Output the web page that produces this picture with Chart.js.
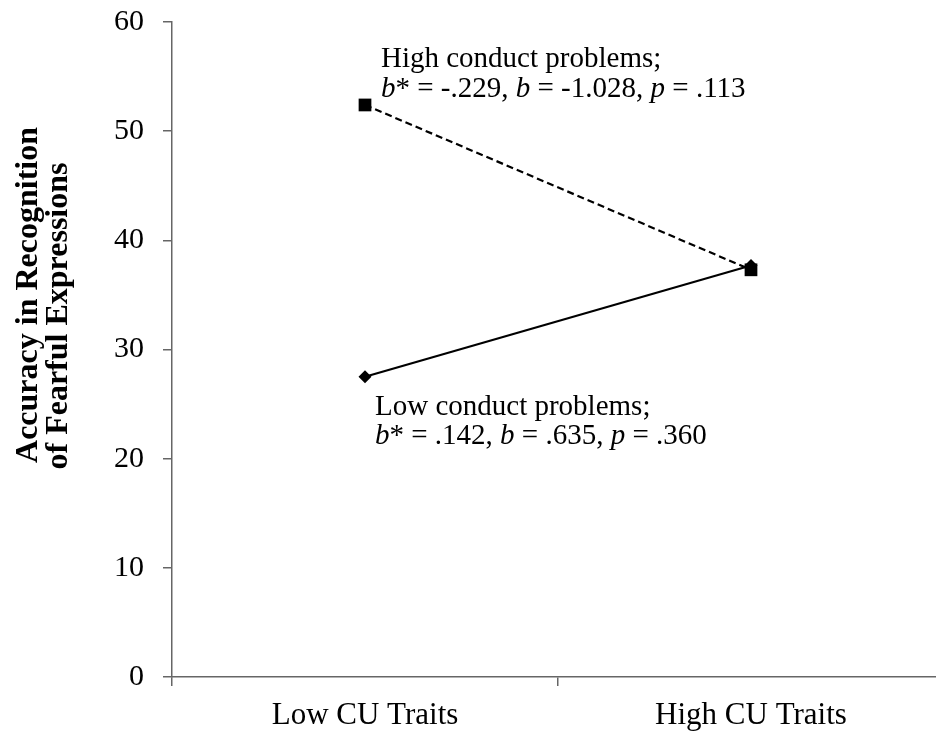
<!DOCTYPE html>
<html>
<head>
<meta charset="utf-8">
<script src="https://cdn.jsdelivr.net/npm/chart.js"></script>
<style>
  html, body { margin: 0; padding: 0; background: #fff; overflow: hidden; }
  #wrap { width: 936px; height: 731px; overflow: hidden; }
</style>
</head>
<body>
<div id="wrap"><canvas id="chart-1" width="944" height="731"></canvas></div>
<script>
// Categories and series values
const categories = ['Low CU Traits', 'High CU Traits'];
const highConduct = [52.4, 37.3];
const lowConduct = [27.5, 37.7];

const yTitle = ['Accuracy in Recognition', 'of Fearful Expressions'];

// Annotation lines, [text, italic] pieces
const highNote = [
  [['High conduct problems;', false]],
  [['b', true], ['* = -.229, ', false], ['b', true], [' = -1.028, ', false], ['p', true], [' = .113', false]]
];
const lowNote = [
  [['Low conduct problems;', false]],
  [['b', true], ['* = .142, ', false], ['b', true], [' = .635, ', false], ['p', true], [' = .360', false]]
];

const serif = "'Liberation Serif', 'Times New Roman', serif";

function drawRuns(ctx, runs, x, y, size) {
  runs.forEach(function(r) {
    ctx.font = (r[1] ? 'italic ' : '') + size + 'px ' + serif;
    ctx.fillText(r[0], x, y);
    x += ctx.measureText(r[0]).width;
  });
}

const textPlugin = {
  id: 'textPlugin',
  afterDraw: function(chart) {
    const ctx = chart.ctx;
    ctx.save();
    ctx.fillStyle = '#000';
    ctx.textBaseline = 'alphabetic';
    ctx.textAlign = 'left';
    highNote.forEach(function(line, i) { drawRuns(ctx, line, 381, 67 + i * 30, 29); });
    lowNote.forEach(function(line, i) { drawRuns(ctx, line, 375, 415 + i * 29, 29); });

    // y axis title, two lines rotated
    ctx.font = 'bold 32px ' + serif;
    ctx.textAlign = 'center';
    ctx.rotate(-Math.PI / 2);
    ctx.fillText(yTitle[0], -295, 37);
    ctx.fillText(yTitle[1], -316, 67);
    ctx.restore();
  }
};

// scales keep their own size; no extra label padding around the plot
function noPad(scale) {
  scale.paddingTop = 0;
  scale.paddingBottom = 0;
  scale.paddingLeft = 0;
  scale.paddingRight = 0;
}

new Chart(document.getElementById('chart-1'), {
  type: 'line',
  data: {
    labels: categories,
    datasets: [{
      label: 'Low conduct problems',
      data: lowConduct,
      borderColor: '#000',
      backgroundColor: '#000',
      borderWidth: 2.2,
      pointStyle: 'rectRot',
      pointRadius: 6.5,
      pointBorderWidth: 0,
      tension: 0
    }, {
      label: 'High conduct problems',
      data: highConduct,
      borderColor: '#000',
      backgroundColor: '#000',
      borderWidth: 2.2,
      borderDash: [7, 4],
      pointStyle: 'rect',
      pointRadius: 9,
      pointBorderWidth: 0,
      tension: 0
    }]
  },
  options: {
    responsive: false,
    animation: false,
    layout: { autoPadding: false, padding: { top: 22, left: 0, right: 0, bottom: 0 } },
    plugins: {
      legend: { display: false },
      tooltip: { enabled: false }
    },
    scales: {
      x: {
        type: 'category',
        offset: true,
        grid: { offset: true, drawOnChartArea: false, drawTicks: true, tickLength: 9, color: '#666', lineWidth: 1.5 },
        border: { color: '#666', width: 1.5 },
        ticks: { color: '#000', font: { family: serif, size: 31 }, padding: 11, maxRotation: 0 },
        afterFit: function(scale) { scale.height = 54; noPad(scale); }
      },
      y: {
        min: 0,
        max: 60,
        grid: { drawOnChartArea: false, drawTicks: true, tickLength: 9, color: '#666', lineWidth: 1.5 },
        border: { color: '#666', width: 1.5 },
        ticks: { stepSize: 10, color: '#000', font: { family: serif, size: 30 }, padding: 19 },
        afterFit: function(scale) { scale.width = 172; noPad(scale); }
      }
    }
  },
  plugins: [textPlugin]
});
</script>
</body>
</html>
